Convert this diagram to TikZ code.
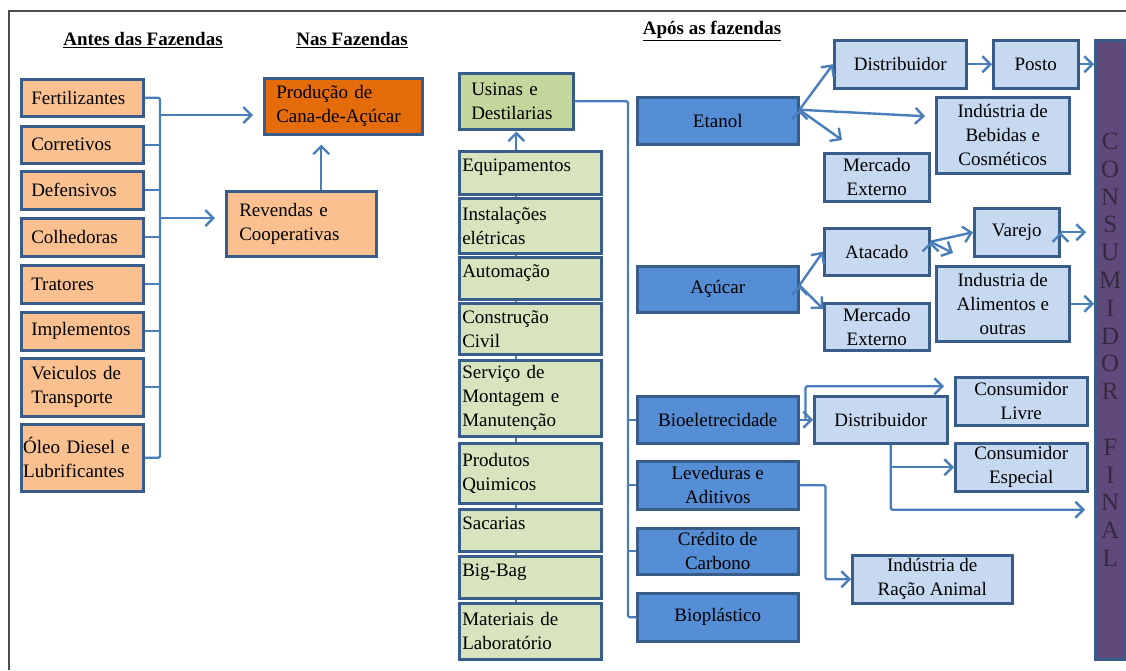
\documentclass[tikz,border=0pt]{standalone}
\usepackage{fontspec}
\setmainfont{Liberation Serif}
\usetikzlibrary{arrows.meta,
                calc,
                backgrounds}

\definecolor{boxline}{HTML}{385D8A}
\definecolor{linkblue}{HTML}{4A7EBB}
\definecolor{peach}{HTML}{FAC090}
\definecolor{rust}{HTML}{E46C0A}
\definecolor{usgreen}{HTML}{C3D69B}
\definecolor{palegreen}{HTML}{D7E4BD}
\definecolor{deepblue}{HTML}{558ED5}
\definecolor{paleblue}{HTML}{C6D9F1}
\definecolor{plum}{HTML}{604A7B}
\definecolor{plumtext}{HTML}{35293F}

\begin{document}
\begin{tikzpicture}[
    x=1pt, y=-1pt,
    font=\fontsize{19}{24}\selectfont,
        base/.style = {draw=boxline, line width=2.5pt, anchor=north west, inner ysep=2pt},
        supply/.style = {base, fill=peach, minimum width=122pt, inner xsep=10pt,
                         text width=102pt, align=left},
        farm/.style = {base, inner xsep=12pt, align=left},
        mill/.style = {base, fill=palegreen, minimum width=142pt, inner xsep=3pt,
                       text width=136pt, align=left},
        topline/.style = {text height=17pt, text depth=19pt},
        product/.style = {base, fill=deepblue, minimum width=161pt, align=center},
        market/.style = {base, fill=paleblue, align=center},
        title/.style = {font=\fontsize{19}{24}\selectfont\bfseries},
        wire/.style = {draw=linkblue, line width=2.4pt, rounded corners=1.5pt},
        arr/.style = {wire, -{Straight Barb[length=8pt,width=16pt]}}
        ]

    \useasboundingbox (0,0) rectangle (1126,670);
    \draw[black!70, line width=1.3pt] (9,670) -- (9,11) -- (1126,11);

    % Titles
    \node[title] (antes) at (143,40) {\underline{Antes das Fazendas}};
    \node[title] (nas)   at (352,40) {\underline{Nas Fazendas}};
    \node[title] (apos)  at (712,31) {\underline{Após as fazendas}};

    % Before the farms
    \node[supply, minimum height=37pt] (fert) at (20,78)  {Fertilizantes};
    \node[supply, minimum height=37pt] (corr) at (20,125) {Corretivos};
    \node[supply, minimum height=38pt] (defe) at (20,170) {Defensivos};
    \node[supply, minimum height=38pt] (colh) at (20,217) {Colhedoras};
    \node[supply, minimum height=38pt] (trat) at (20,264) {Tratores};
    \node[supply, minimum height=38pt] (impl) at (20,311) {Implementos};
    \node[supply, minimum height=58pt] (veic) at (20,357) {Veiculos de\\Transporte};
    \node[supply, minimum height=67pt, inner xsep=2pt, text width=118pt] (oleo) at (20,423)
        {Óleo Diesel e\\Lubrificantes};

    % On the farms
    \node[farm, fill=rust, minimum width=158pt, minimum height=56pt, text width=134pt]
        (prod) at (263,77) {Produção de\\Cana-de-Açúcar};
    \node[farm, fill=peach, minimum width=150pt, minimum height=65pt, inner xsep=13pt,
          text width=124pt] (rev) at (225,190) {Revendas e\\Cooperativas};

    % Mills and their suppliers
    \node[farm, fill=usgreen, minimum width=114pt, minimum height=56pt, text width=90pt]
        (usinas) at (458,72) {Usinas e\\Destilarias};
    \node[mill, topline, minimum height=43pt] (equip)  at (458,150) {Equipamentos};
    \node[mill, minimum height=55pt]          (inst)   at (458,197) {Instalações\\elétricas};
    \node[mill, topline, minimum height=42pt] (auto)   at (458,256) {Automação};
    \node[mill, minimum height=51pt]          (constr) at (458,302) {Construção\\Civil};
    \node[mill, minimum height=76pt]          (serv)   at (458,359)
        {Serviço de\\Montagem e\\Manutenção};
    \node[mill, minimum height=60pt]          (quim)   at (458,442) {Produtos\\Quimicos};
    \node[mill, topline, minimum height=42pt] (sac)    at (458,508) {Sacarias};
    \node[mill, topline, minimum height=42pt] (big)    at (458,555) {Big-Bag};
    \node[mill, minimum height=56pt]          (mat)    at (458,602) {Materiais de\\Laboratório};

    % Products
    \node[product, minimum height=47pt] (etanol) at (636,96)  {Etanol};
    \node[product, minimum height=46pt] (acucar) at (636,265) {Açúcar};
    \node[product, minimum height=47pt] (bioel)  at (636,395) {Bioeletrecidade};
    \node[product, minimum height=48pt] (lev)    at (636,460) {Leveduras e\\Aditivos};
    \node[product, minimum height=46pt] (cred)   at (636,527) {Crédito de\\Carbono};
    \node[product, minimum height=48pt] (biopl)  at (636,592) {Bioplástico};

    % Markets
    \node[market, minimum width=132pt, minimum height=48pt] (dist1)  at (833,39)  {Distribuidor};
    \node[market, minimum width=85pt,  minimum height=48pt] (posto)  at (992,39)  {Posto};
    \node[market, minimum width=133pt, minimum height=76pt] (beb)    at (935,96)
        {Indústria de\\Bebidas e\\Cosméticos};
    \node[market, minimum width=105pt, minimum height=48pt] (merc1)  at (823,152) {Mercado\\Externo};
    \node[market, minimum width=85pt,  minimum height=48pt] (varejo) at (973,207) {Varejo};
    \node[market, minimum width=105pt, minimum height=47pt] (atac)   at (823,227) {Atacado};
    \node[market, minimum width=133pt, minimum height=75pt] (alim)   at (935,265)
        {Industria de\\Alimentos e\\outras};
    \node[market, minimum width=105pt, minimum height=47pt] (merc2)  at (823,302) {Mercado\\Externo};
    \node[market, minimum width=133pt, minimum height=47pt] (dist2)  at (813,395) {Distribuidor};
    \node[market, minimum width=132pt, minimum height=48pt] (livre)  at (954,376) {Consumidor\\Livre};
    \node[market, minimum width=132pt, minimum height=48pt] (esp)    at (954,442) {Consumidor\\Especial};
    \node[market, minimum width=160pt, minimum height=48pt] (racao)  at (851,554)
        {Indústria de\\Ração Animal};

    % Final consumer bar
    \node[base, fill=plum, minimum width=30pt, minimum height=619pt, inner xsep=0pt,
          align=center, text=plumtext, font=\fontsize{25}{27.8}\selectfont]
        (final) at (1094,39) {C\\O\\N\\S\\U\\M\\I\\D\\O\\R\\~\\F\\I\\N\\A\\L};

    % Left bus
    \coordinate (bus)  at (160,0);
    \coordinate (busP) at (160,115);
    \coordinate (busR) at (160,218);
    \draw[wire] (fert.east) -| (bus |- oleo.east) -- (oleo.east);
    \foreach \n in {corr,defe,colh,trat,impl,veic}
        \draw[wire] (\n.east) -- (\n.east -| bus);
    \draw[arr, shorten >=10pt] (busP) -- (busP -| prod.west);
    \draw[arr, shorten >=10pt] (busR) -- (busR -| rev.west);
    \coordinate (revUp) at ($(rev.north)+(20,0)$);
    \draw[arr, shorten >=9pt] (revUp) -- (revUp |- prod.south);

    % Mill column
    \begin{scope}[on background layer]
        \draw[wire] (mat.center -| usinas.south) -- (equip.center -| usinas.south);
    \end{scope}
    \draw[arr, shorten >=1pt] (equip.north -| usinas.south) -- (usinas.south);

    % Products bus
    \draw[wire] (usinas.east) -| ([xshift=-8pt]biopl.west) -- (biopl.west);
    \foreach \n in {bioel,lev,cred}
        \draw[wire] ([xshift=-8pt]\n.west) -- (\n.west);

    % Etanol
    \coordinate (etOut)  at ($(etanol.east)+(0,-11)$);
    \coordinate (bebIn)  at ($(beb.west)+(-10,-19)$);
    \coordinate (mercIn) at ($(merc1.north west)+(19,-12)$);
    \draw[arr] (etOut) edge (dist1.west) edge (bebIn) edge (mercIn);
    \draw[arr] (dist1) edge (posto);

    % Acucar
    \coordinate (acOut)   at ($(acucar.east)+(0,-4)$);
    \coordinate (merc2In) at ($(merc2.north west)+(0,7)$);
    \draw[arr] (acOut) edge (atac.west) edge (merc2In);
    \coordinate (atOut)  at ($(atac.east)+(0,-10)$);
    \coordinate (alimIn) at ($(alim.north west)+(18,-12)$);
    \draw[arr] (atOut) edge (varejo.west) edge (alimIn);

    % into the bar
    \draw[arr]
        (posto.east)  edge (posto.east -| final.west)
        (alim.east)   edge (alim.east -| final.west)
        (varejo.east) edge[shorten >=8pt] (varejo.east -| final.west);

    % Bioeletrecidade
    \draw[arr] (bioel.east) -- (dist2.west);
    \coordinate (bioUp)   at ($(bioel.east)+(6,0)$);
    \coordinate (livreIn) at ($(livre.west)+(-10,-15)$);
    \draw[arr] (bioUp) |- (livreIn);
    \coordinate (d2Out)   at ($(dist2.south)+(10,0)$);
    \coordinate (finalIn) at ($(final.west)+(-9,160)$);
    \draw[arr] (d2Out) |- (finalIn);
    \draw[arr] (d2Out |- esp.west) -- (esp.west);

    % Leveduras
    \draw[arr] (lev.east) -- ++(26,0) |- (racao.west);

\end{tikzpicture}
\end{document}
